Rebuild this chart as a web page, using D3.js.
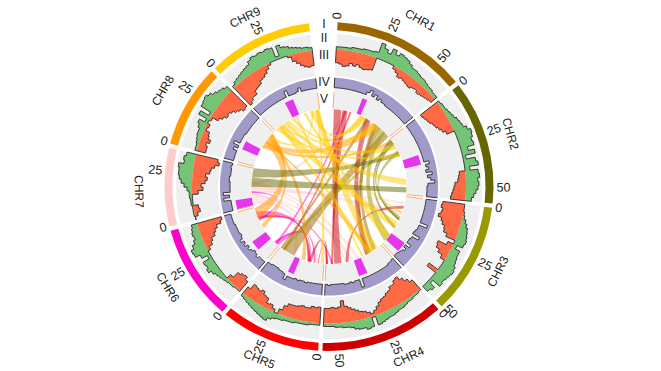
<!DOCTYPE html>
<html>
<head>
<meta charset="utf-8">
<script src="https://cdn.jsdelivr.net/npm/d3@7"></script>
<style>
html, body { margin: 0; padding: 0; background: #fff; }
svg { display: block; }
text { font-family: "Liberation Sans", Arial, sans-serif; fill: #222; }
</style>
</head>
<body>
<svg id="chart" width="661" height="371"></svg>
<script>
var chrNames = ["CHR1", "CHR2", "CHR3", "CHR4", "CHR5", "CHR6", "CHR7", "CHR8", "CHR9"];
var chrLengths = [61.5, 57, 51, 57, 45.5, 44, 36, 38, 48];
var chrColors = ["#996600", "#666600", "#999900", "#cc0000", "#ff0000", "#ff00cc", "#ffcccc", "#ff9900", "#ffcc00"];
var trackLabels = ["I", "II", "III", "IV", "V"];

// track III, upper side of the baseline
var green = [
    [3,3,3,3,4,4,4,5,5,5,6,16,12,9,15,11,14,13,12,10,8,8,7,6,6,5,4,4,3,3],
    [2,3,3,4,5,6,8,9,10,13,16,15,13,14,7,13,3,12,14,5,13,14,12,13,12,10,8,6],
    [0,0,1,2,4,6,8,9,10,11,10,4,9,9,10,11,13,14,13,12,11,12,3,9,7],
    [1,2,2,3,3,4,5,5,6,7,7,8,9,10,1,10,11,9,9,8,6,5,5,4,4,3,3,3],
    [2,2,2,3,3,3,3,4,4,4,5,5,6,8,11,10,9,8,7,6,5,4,3],
    [1,1,2,2,3,4,5,6,8,11,9,10,3,9,14,15,12,9,7,8,7,6],
    [0,1,1,1,2,2,3,3,5,8,11,13,14,14,15,10,11,9],
    [2,2,3,4,5,5,7,9,3,12,3,14,15,16,14,11,9,8,6],
    [2,4,5,6,7,8,9,12,14,13,14,13,14,13,3,13,10,9,7,6,5,4,4,3]
];
// track III, lower side of the baseline
var orange = [
    [13,14,16,15,12,14,12,14,15,14,13,0,0,0,0,0,3,5,8,7,8,9,10,8,7,9,8,7,6,5],
    [21,20,19,18,16,15,13,11,8,0,0,0,0,0,0,0,0,0,0,0,6,7,8,11,12,13,14,15],
    [22,23,21,22,24,20,18,15,14,10,0,6,15,14,10,5,0,0,0,11,0,0,0,0,0],
    [12,16,20,24,23,20,20,17,16,14,13,11,8,5,3,5,7,8,10,12,14,16,22,16,15,16,15,15],
    [16,15,16,14,14,15,14,13,13,13,10,5,0,3,6,5,10,11,14,12,13,14,8],
    [12,15,14,12,5,0,0,0,0,0,0,0,0,0,3,7,9,13,15,18,23,25],
    [0,3,6,5,0,0,0,6,11,9,13,15,13,17,18,21,25,23],
    [9,9,7,10,7,6,2,3,0,2,8,11,14,13,15,18,20,23,22],
    [24,22,20,20,16,15,14,11,10,8,5,2,0,0,0,0,0,2,7,10,13,15,16,15]
];
// track IV
var purple = [
    [10,10,10,10,10,10,10,10,10,10,10,10,7,4,9,6,10,8,10,10,11,11,11,11,11,11,11,11,11,11],
    [11,11,11,11,11,11,11,11,11,11,11,11,11,11,11,6,10,8,11,5,10,7,3,10,11,11,11,11],
    [11,11,11,11,11,11,11,11,11,3,11,11,12,13,5,12,13,13,8,13,10,12,13,14,14],
    [13,12,12,11,11,11,11,11,11,11,11,11,11,11,3,11,11,10,11,10,10,11,11,11,11,11,10,11],
    [11,11,11,11,11,11,10,11,11,10,11,10,10,10,6,11,12,12,13,13,13,12,12],
    [10,10,10,8,10,11,9,7,9,6,8,5,8,9,8,8,8,8,7,7,7,7],
    [10,10,10,10,3,9,3,10,10,10,10,9,9,10,10,10,9,10],
    [10,10,10,10,6,10,4,10,10,10,10,11,11,11,11,11,11,11,11],
    [10,10,10,10,10,10,10,10,10,10,10,10,4,10,10,10,9,6,10,10,10,10,10,10]
];
// track V blocks, one per chromosome, start and end in Mb
var blockStart = [23, 24, 38, 23, 23.5, 10, 0.3, 10.5, 21];
var blockEnd = [27, 32, 46, 30, 28.5, 18, 7.5, 17.5, 28];
// where each chromosome name sits, degrees clockwise from the top, and how far out
var labelAngles = [28.7, 73.8, 116.7, 155, 202, 238, 268.5, 300, 333.6];
var labelRadii = [189, 188, 190, 189, 187, 191, 191, 191, 188];

// links: colour chromosome, chrA, startMb, endMb, chrB, startMb, endMb
var links = [
    // CHR7
    [6, 6, 8, 12, 3, 54, 56],
    [6, 6, 14, 18, 5, 40, 44],
    [6, 6, 6, 8, 4, 28, 31],
    [6, 6, 16, 20, 2, 15, 19],
    [6, 6, 2, 6, 4, 5, 8],
    [6, 6, 18, 22, 0, 10, 14],
    [6, 6, 10, 12, 3, 30, 34],
    [6, 6, 22, 25, 3, 24, 27],
    [6, 6, 12, 14, 2, 5, 7],
    [6, 6, 20, 22, 3, 36, 38],
    // CHR6
    [5, 5, 2, 4, 0, 11, 13],
    [5, 5, 0.5, 5, 4, 13, 15],
    [5, 5, 36, 40, 4, 14, 16],
    [5, 5, 33, 35, 3, 50, 52],
    [5, 5, 30, 32, 6, 12, 14],
    [5, 5, 4, 6, 4, 8, 10],
    // CHR4, CHR5
    [3, 0, 0.7, 8, 3, 42, 49],
    [3, 0, 32, 38, 3, 12, 18],
    [3, 2, 9, 12, 3, 35, 38],
    [3, 0, 9, 14, 3, 50, 52],
    [3, 3, 55, 57, 4, 12, 15],
    [4, 5, 32, 36, 4, 13, 16],
    [4, 4, 5, 6, 3, 55, 57],
    [4, 0, 16, 18, 4, 40, 42],
    // CHR1
    [0, 0, 54, 61, 4, 30, 42],
    [0, 0, 44, 50, 3, 14, 17],
    [0, 0, 33, 36, 4, 43, 45],
    [0, 0, 42, 46, 3, 6, 10],
    // CHR3
    [2, 0, 50, 56, 2, 40, 48],
    [2, 1, 13, 17, 2, 20, 24],
    [2, 1, 6, 8, 4, 40, 44],
    // CHR8
    [7, 7, 25, 36, 5, 32, 43],
    [7, 7, 21, 26, 0, 40, 50],
    [7, 7, 30, 34, 4, 18, 22],
    [7, 7, 26, 28, 3, 10, 14],
    [7, 7, 33, 37, 5, 22, 26],
    [7, 7, 19, 22, 1, 2, 6],
    // CHR2
    [1, 1, 15, 19, 6, 27, 36],
    [1, 1, 50, 55, 6, 18, 27],
    [1, 1, 3, 6, 2, 22, 24],
    [1, 1, 0, 3, 2, 30, 33],
    // CHR9
    [8, 8, 43, 48, 3, 4, 12],
    [8, 8, 4, 11, 2, 26, 33],
    [8, 8, 11, 15, 1, 42, 48],
    [8, 8, 15, 17, 1, 7, 12],
    [8, 8, 5, 8, 3, 12, 16],
    [8, 8, 38, 42, 0, 26, 34],
    [8, 8, 44, 47, 2, 40, 46],
    [8, 8, 19, 22, 0, 42, 48],
    [8, 8, 7, 9, 0, 28, 32],
    [8, 8, 32, 35, 2, 15, 17],
    [8, 8, 1, 4, 1, 16, 20],
    [8, 8, 24, 26, 3, 20, 22],
    [8, 8, 40, 42, 7, 30, 33],
    [8, 8, 45, 47, 4, 0, 3]
];

var cx = 329, cy = 186.5;
var svg = d3.select("#chart");
var g = svg.append("g").attr("transform", "translate(" + cx + "," + cy + ")");

//////////////////////////////////////////////////////////////////////////////
// layout

var degPerMb = 0.7717, gapDeg = 1.5, startDeg = 3;
var chrScales = [];
var pos = startDeg;
chrLengths.forEach(function(len) {
    var end = pos + len * degPerMb;
    chrScales.push(d3.scaleLinear().domain([0, len]).range([pos, end].map(d => d * Math.PI / 180)));
    pos = end + gapDeg;
});

var greenR = d3.scaleLinear().domain([0, 16]).range([137, 153]);
var orangeR = d3.scaleLinear().domain([0, 26]).range([137, 111]);
var purpleR = d3.scaleLinear().domain([0, 16]).range([109, 93]);

function steps(values, chr) {
    // one pair of points per bin so the outline stays stepped
    var bin = chrLengths[chr] / values.length;
    var result = [];
    values.forEach(function(v, i) {
        result.push({ a: chrScales[chr](i * bin), v: v, i: i });
        result.push({ a: chrScales[chr]((i + 1) * bin), v: v, i: i });
    });
    return result;
}

function band(chr, r0, r1) {
    var s = chrScales[chr].range();
    return d3.arc()({ innerRadius: r0, outerRadius: r1, startAngle: s[0], endAngle: s[1] });
}

//////////////////////////////////////////////////////////////////////////////
// rings and tracks

chrNames.forEach(function(name, c) {
    g.append("path").attr("d", band(c, 156.5, 164.5)).attr("fill", chrColors[c]);
    g.append("path").attr("d", band(c, 111, 153)).attr("fill", "#efefef");
    g.append("path").attr("d", band(c, 78, 109)).attr("fill", "#efefef");
});

chrNames.forEach(function(name, c) {
    var gs = steps(green[c], c);
    var os = steps(orange[c], c);

    g.append("path")
        .attr("d", d3.areaRadial().angle(d => d.a).innerRadius(137).outerRadius(d => greenR(d.v))(gs))
        .attr("fill", "#74c476");
    g.append("path")
        .attr("d", d3.areaRadial().angle(d => d.a).innerRadius(d => orangeR(d.v)).outerRadius(137)(os))
        .attr("fill", "#ff6a45");
    g.append("path")
        .attr("d", d3.areaRadial()
              .angle(d => d.a)
              .innerRadius(d => orangeR(orange[c][d.i]))
              .outerRadius(d => greenR(green[c][d.i]))(gs))
        .attr("fill", "none")
        .attr("stroke", "#2b2b2b")
        .attr("stroke-width", 0.9);

    var ps = steps(purple[c], c);
    g.append("path")
        .attr("d", d3.areaRadial().angle(d => d.a).innerRadius(d => purpleR(d.v)).outerRadius(109)(ps))
        .attr("fill", "#a09ac8");
    var s = chrScales[c].range();
    var outline = [{ a: s[0], v: 0 }].concat(ps, [{ a: s[1], v: 0 }]);
    g.append("path")
        .attr("d", d3.lineRadial().angle(d => d.a).radius(d => purpleR(d.v))(outline))
        .attr("fill", "none")
        .attr("stroke", "#2b2b2b")
        .attr("stroke-width", 0.9);

    // track V blocks
    g.append("path")
        .attr("d", d3.arc()({
            innerRadius: 78, outerRadius: 94.5,
            startAngle: chrScales[c](blockStart[c]), endAngle: chrScales[c](blockEnd[c])
        }))
        .attr("fill", "#e536ee");

    // chromosome edges
    s.forEach(function(a) {
        g.append("path")
            .attr("d", d3.lineRadial()([[a, 78], [a, 94.5]]))
            .attr("stroke", "#f8ab7c")
            .attr("stroke-width", 1);
    });
});

//////////////////////////////////////////////////////////////////////////////
// links

var linkRadius = 77.5, bend = 0.4;

function polar(a) {
    return [linkRadius * Math.sin(a), -linkRadius * Math.cos(a)];
}

// like d3.ribbon, but the edges bend towards a point short of the centre,
// so a band across the circle keeps most of its width
function linkPath(a0, a1, b0, b1) {
    var p = d3.path();
    var pa0 = polar(a0), pa1 = polar(a1), pb0 = polar(b0), pb1 = polar(b1);
    var off = -Math.PI / 2;
    p.moveTo(pa0[0], pa0[1]);
    p.arc(0, 0, linkRadius, a0 + off, a1 + off);
    p.quadraticCurveTo((pa1[0] + pb0[0]) / 2 * bend, (pa1[1] + pb0[1]) / 2 * bend, pb0[0], pb0[1]);
    p.arc(0, 0, linkRadius, b0 + off, b1 + off);
    p.quadraticCurveTo((pb1[0] + pa0[0]) / 2 * bend, (pb1[1] + pa0[1]) / 2 * bend, pa0[0], pa0[1]);
    p.closePath();
    return p.toString();
}

g.append("g").selectAll("path")
    .data(links)
    .enter()
    .append("path")
    .attr("d", d => linkPath(chrScales[d[1]](d[2]), chrScales[d[1]](d[3]),
                             chrScales[d[4]](d[5]), chrScales[d[4]](d[6])))
    .attr("fill", d => chrColors[d[0]])
    .attr("fill-opacity", 0.5);

//////////////////////////////////////////////////////////////////////////////
// labels

function placeRadial(sel, r, a) {
    var deg = a * 180 / Math.PI;
    var right = deg < 180;
    sel.attr("transform", "rotate(" + (deg - 90) + ") translate(" + r + ",0)" + (right ? "" : " rotate(180)"))
        .attr("text-anchor", right ? "start" : "end")
        .attr("dominant-baseline", "middle");
}

chrNames.forEach(function(name, c) {
    d3.range(0, chrLengths[c], 25).forEach(function(t) {
        g.append("text")
            .text(t)
            .attr("font-size", 12.5)
            .call(placeRadial, 167.5, chrScales[c](t));
    });
    var mid = labelAngles[c];
    var flip = mid > 90 && mid < 270;
    g.append("text")
        .text(name)
        .attr("font-size", 12)
        .attr("text-anchor", "middle")
        .attr("dominant-baseline", "middle")
        .attr("transform", "rotate(" + (flip ? mid - 180 : mid) + ") translate(0," + (flip ? labelRadii[c] : -labelRadii[c]) + ")");
});

var trackLabelR = [161.5, 147.5, 130.5, 103.5, 86.5];
trackLabels.forEach(function(t, i) {
    svg.append("text")
        .text(t)
        .attr("x", cx - 5)
        .attr("y", cy - trackLabelR[i])
        .attr("text-anchor", "middle")
        .attr("dominant-baseline", "middle")
        .attr("font-size", 12);
});
</script>
</body>
</html>
